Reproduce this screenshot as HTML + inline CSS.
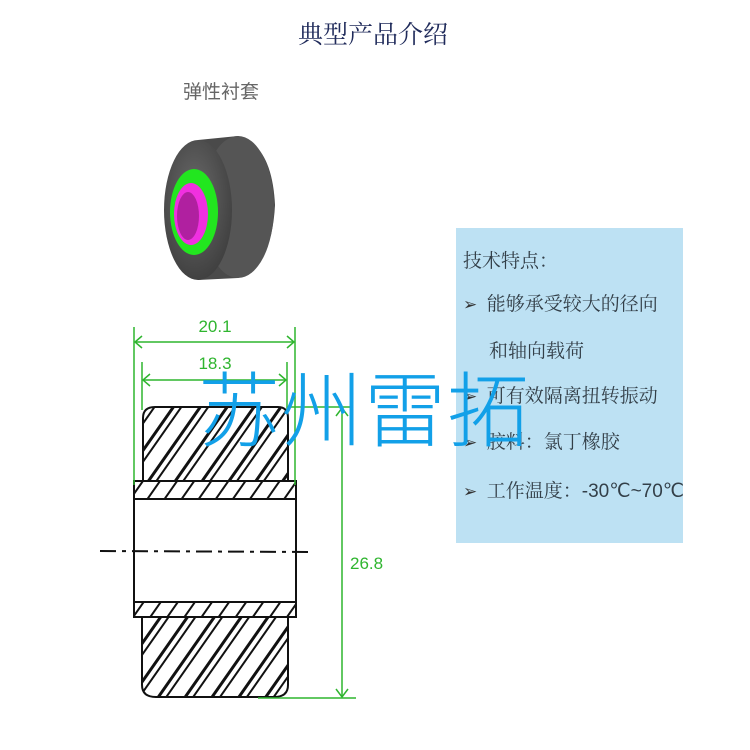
<!DOCTYPE html>
<html><head><meta charset="utf-8"><style>
html,body{margin:0;padding:0;background:#fff;}
body{width:750px;height:750px;position:relative;overflow:hidden;}
.t{position:absolute;white-space:nowrap;}
.b{font:19px 'Liberation Serif','Noto Serif CJK SC',serif;color:#333f48;line-height:20px;}
.bl{font-size:17px;font-family:'DejaVu Sans',sans-serif;color:#333;}
</style></head><body>
<div class="t" style="left:298px;top:15px;font:25px 'Noto Serif CJK SC',serif;color:#1f2a5a;">典型产品介绍</div>
<div class="t" style="left:183px;top:77px;font:19px 'Noto Sans CJK SC',sans-serif;color:#666;">弹性衬套</div>

<div style="position:absolute;left:456px;top:228px;width:227px;height:315px;background:#bde1f3;"></div>
<div class="t b" style="left:463px;top:252px;">技术特点：</div>
<div class="t b" style="left:463px;top:295px;"><span class="bl">➢</span>&nbsp;&nbsp;能够承受较大的径向</div>
<div class="t b" style="left:489px;top:342px;">和轴向载荷</div>
<div class="t b" style="left:463px;top:387px;"><span class="bl">➢</span>&nbsp;&nbsp;可有效隔离扭转振动</div>
<div class="t b" style="left:463px;top:433px;"><span class="bl">➢</span>&nbsp;&nbsp;胶料：氯丁橡胶</div>
<div class="t b" style="left:463px;top:482px;"><span class="bl">➢</span>&nbsp;&nbsp;工作温度：<span style="font-family:'Liberation Sans',sans-serif">-30℃~70℃</span></div>

<svg width="750" height="750" style="position:absolute;left:0;top:0">
<defs>
<pattern id="h" width="22" height="22" patternUnits="userSpaceOnUse" patternTransform="rotate(35)">
<rect width="22" height="22" fill="#fff"/>
<rect x="0" y="0" width="3" height="22" fill="#111"/>
<rect x="7" y="0" width="2" height="22" fill="#111"/>
</pattern>
<pattern id="h2" width="14" height="14" patternUnits="userSpaceOnUse" patternTransform="rotate(35)">
<rect width="14" height="14" fill="#fff"/>
<rect x="0" y="0" width="2" height="14" fill="#111"/>
</pattern>
<radialGradient id="tg" cx="0.45" cy="0.4" r="0.7"><stop offset="0" stop-color="#6a6a6a"/><stop offset="1" stop-color="#3a3a3a"/></radialGradient>
</defs>
<path d="M198,140 L238,136 Q272,145 275,205 Q272,265 238,278 L198,280 Z" fill="#4a4a4a"/>
<ellipse cx="238" cy="207" rx="36" ry="71" fill="#555"/>
<ellipse cx="198" cy="210" rx="34" ry="70" fill="url(#tg)"/>
<ellipse cx="194" cy="212" rx="24" ry="43" fill="#22e61f"/>
<ellipse cx="191" cy="214" rx="17" ry="31" fill="#f030e0"/>
<ellipse cx="188" cy="216" rx="11" ry="24" fill="#b020a0"/>
<path d="M143,482 L143,418 Q143,407 155,407 L278,407 Q288,407 288,418 L288,482 Z" fill="url(#h)" stroke="#111" stroke-width="2"/>
<path d="M142,617 L142,685 Q142,697 156,697 L274,697 Q288,697 288,685 L288,617 Z" fill="url(#h)" stroke="#111" stroke-width="2"/>
<rect x="134" y="481" width="162" height="136" fill="#fff" stroke="#111" stroke-width="2"/>
<rect x="134" y="481" width="162" height="18" fill="url(#h2)" stroke="#111" stroke-width="2"/>
<rect x="134" y="602" width="162" height="15" fill="url(#h2)" stroke="#111" stroke-width="2"/>
<line x1="100" y1="551" x2="312" y2="552" stroke="#111" stroke-width="2" stroke-dasharray="16,6,4,6"/>
<g stroke="#2fb52f" stroke-width="1.5" fill="none">
<line x1="134" y1="327" x2="134" y2="485"/>
<line x1="295" y1="327" x2="295" y2="485"/>
<line x1="142" y1="362" x2="142" y2="410"/>
<line x1="287" y1="362" x2="287" y2="410"/>
<line x1="135" y1="342" x2="294" y2="342"/>
<line x1="143" y1="380" x2="286" y2="380"/>
<path d="M142,336 L135,342 L142,348 M287,336 L294,342 L287,348"/>
<path d="M150,374 L143,380 L150,386 M279,374 L286,380 L279,386"/>
<line x1="288" y1="407" x2="352" y2="407"/>
<line x1="258" y1="698" x2="356" y2="698"/>
<line x1="342" y1="408" x2="342" y2="697"/>
<path d="M336,416 L342,408 L348,416 M336,689 L342,697 L348,689"/>
</g>
<text x="215" y="332" font-family="Liberation Sans,sans-serif" font-size="17" fill="#2fb52f" text-anchor="middle">20.1</text>
<text x="215" y="369" font-family="Liberation Sans,sans-serif" font-size="17" fill="#2fb52f" text-anchor="middle">18.3</text>
<text x="350" y="569" font-family="Liberation Sans,sans-serif" font-size="17" fill="#2fb52f">26.8</text>
</svg>
<div class="t" style="left:198px;top:350px;font:82px 'Noto Sans CJK SC',sans-serif;font-weight:300;color:#12a0e8;letter-spacing:1px;line-height:110px;">苏州雷拓</div>
</body></html>
